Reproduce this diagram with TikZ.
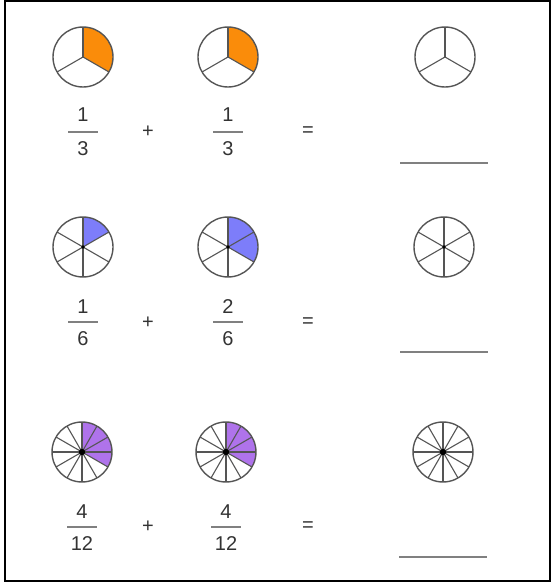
\documentclass[tikz,border=0pt]{standalone}
\usepackage{fontspec}
\setmainfont{Liberation Sans}
\definecolor{pieorange}{RGB}{250,140,10}
\definecolor{pieblue}{RGB}{125,125,250}
\definecolor{piepurple}{RGB}{175,115,235}
\definecolor{rimgray}{RGB}{85,85,85}
\newcommand\pie[7]{% name, x, y, n, k, color, dot radius
  \node[circle, minimum size=60pt, inner sep=0pt] (#1) at (#2,#3) {};
  \ifnum#5>0
    \fill[#6] (#1.center) -- ++(90:30pt) arc[start angle=90, end angle={90-360*#5/#4}, radius=30pt] -- cycle;
  \fi
  \foreach \i in {1,...,#4} \draw[spoke] (#1.center) -- ++({90-360*(\i-1)/#4}:30pt);
  \draw[rim] (#1.center) circle[radius=30pt];
  \fill[black] (#1.center) circle[radius=#7];
}
\begin{document}
\begin{tikzpicture}[x=1pt,y=-1pt,
  rim/.style={draw=rimgray, line width=1.4pt},
  spoke/.style={draw=rimgray, line width=1.1pt},
  num/.style={font=\fontsize{20}{20}\selectfont, text=black!80, inner sep=0pt},
  op/.style={font=\fontsize{20}{20}\selectfont, text=black!80, inner sep=0pt},
  bar/.style={draw=black!50, line width=1.3pt},
  ansline/.style={draw=black!50, line width=1.5pt}]
\useasboundingbox (0,0) rectangle (555,583);
\draw[line width=1.5pt] (5,1) rectangle (550,581);

% Row 1
\pie{a1}{83}{57}{3}{1}{pieorange}{0pt}
\pie{b1}{228}{57}{3}{1}{pieorange}{0pt}
\pie{c1}{445}{57}{3}{0}{white}{0pt}
\node[num] (a1n) at (83,115) {1};
\node[num] (a1d) at (83,149) {3};
\draw[bar] ([xshift=-15pt]a1n.south |- 0,132) -- ([xshift=15pt]a1n.south |- 0,132);
\node[num] (b1n) at (228,115) {1};
\node[num] (b1d) at (228,149) {3};
\draw[bar] ([xshift=-15pt]b1n.south |- 0,132) -- ([xshift=15pt]b1n.south |- 0,132);
\node[op] (p1) at (148,132) {+};
\node[op] (e1) at (308,132) {=};
\coordinate (l1a) at (400,163);
\coordinate (l1b) at (488,163);
\draw[ansline] (l1a) -- (l1b);

% Row 2
\pie{a2}{83}{247}{6}{1}{pieblue}{1.8pt}
\pie{b2}{228}{247}{6}{2}{pieblue}{1.8pt}
\pie{c2}{444}{247}{6}{0}{white}{1.8pt}
\node[num] (a2n) at (83,307) {1};
\node[num] (a2d) at (83,339) {6};
\draw[bar] ([xshift=-15pt]a2n.south |- 0,322) -- ([xshift=15pt]a2n.south |- 0,322);
\node[num] (b2n) at (228,307) {2};
\node[num] (b2d) at (228,339) {6};
\draw[bar] ([xshift=-15pt]b2n.south |- 0,322) -- ([xshift=15pt]b2n.south |- 0,322);
\node[op] (p2) at (148,323) {+};
\node[op] (e2) at (308,323) {=};
\coordinate (l2a) at (400,352);
\coordinate (l2b) at (488,352);
\draw[ansline] (l2a) -- (l2b);

% Row 3
\pie{a3}{82}{452}{12}{4}{piepurple}{3.2pt}
\pie{b3}{226}{452}{12}{4}{piepurple}{3.2pt}
\pie{c3}{443}{452}{12}{0}{white}{3.2pt}
\node[num] (a3n) at (82,512) {4};
\node[num] (a3d) at (82,544) {12};
\draw[bar] ([xshift=-15pt]a3n.south |- 0,527) -- ([xshift=15pt]a3n.south |- 0,527);
\node[num] (b3n) at (226,512) {4};
\node[num] (b3d) at (226,544) {12};
\draw[bar] ([xshift=-15pt]b3n.south |- 0,527) -- ([xshift=15pt]b3n.south |- 0,527);
\node[op] (p3) at (148,527) {+};
\node[op] (e3) at (308,527) {=};
\coordinate (l3a) at (399,557);
\coordinate (l3b) at (487,557);
\draw[ansline] (l3a) -- (l3b);
\end{tikzpicture}
\end{document}
